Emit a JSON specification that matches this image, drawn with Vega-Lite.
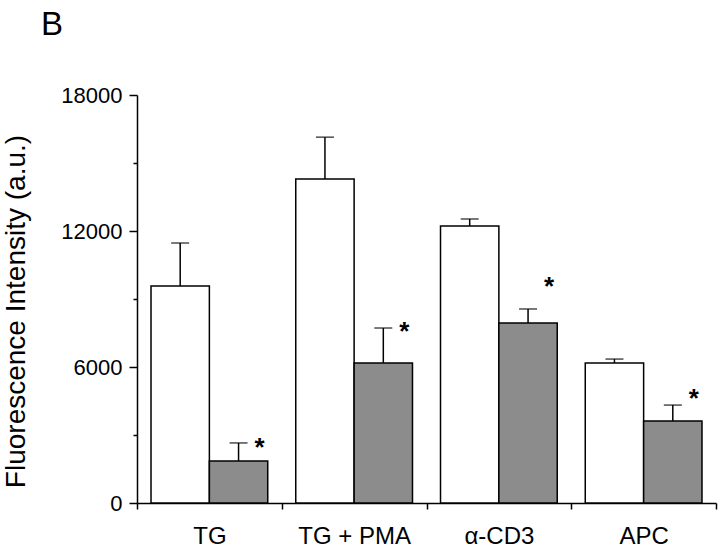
{
  "$schema": "https://vega.github.io/schema/vega-lite/v6.json",
  "width": 579,
  "height": 408,
  "autosize": "none",
  "padding": {"left": 137, "top": 95, "right": 4, "bottom": 44},
  "background": "white",
  "title": {"text": "B", "anchor": "start", "frame": "group", "fontSize": 33, "font": "Liberation Sans", "fontWeight": "normal", "color": "black", "dx": -96, "offset": 42},
  "config": {"view": {"stroke": null}, "font": "Liberation Sans"},
  "data": {"values": [
    {"group": "TG", "treat": "control", "value": 9570, "upper": 11470, "star": null},
    {"group": "TG", "treat": "treated", "value": 1850, "upper": 2650, "star": 2690},
    {"group": "TG + PMA", "treat": "control", "value": 14290, "upper": 16140, "star": null},
    {"group": "TG + PMA", "treat": "treated", "value": 6180, "upper": 7720, "star": 7810},
    {"group": "α-CD3", "treat": "control", "value": 12220, "upper": 12530, "star": null},
    {"group": "α-CD3", "treat": "treated", "value": 7940, "upper": 8560, "star": 9790},
    {"group": "APC", "treat": "control", "value": 6180, "upper": 6350, "star": null},
    {"group": "APC", "treat": "treated", "value": 3620, "upper": 4320, "star": 4850}
  ]},
  "encoding": {
    "x": {"field": "group", "type": "nominal", "sort": null,
      "scale": {"paddingInner": 0, "paddingOuter": 0},
      "axis": {"title": null, "labelAngle": 0, "tickBand": "extent", "domainColor": "black", "domainWidth": 1.5, "tickColor": "black", "tickWidth": 1.5, "tickSize": 6, "labelFontSize": 24, "labelColor": "black", "labelPadding": 15, "labelFont": "Liberation Sans"}},
    "xOffset": {"field": "treat", "type": "nominal", "scale": {"paddingInner": 0, "paddingOuter": 0.24}}
  },
  "layer": [
    {
      "mark": {"type": "bar", "stroke": "black", "strokeWidth": 1.5},
      "encoding": {
        "y": {"field": "value", "type": "quantitative",
          "scale": {"domain": [0, 18000], "nice": false},
          "axis": {"title": "Fluorescence Intensity (a.u.)", "titleFontSize": 28, "titleFont": "Liberation Sans", "titleFontWeight": "normal", "titleColor": "black", "titlePadding": 30, "titleY": 216,
            "values": [0, 3000, 6000, 9000, 12000, 15000, 18000], "format": "d",
            "labelExpr": "datum.value % 6000 === 0 ? datum.label : ''",
            "grid": false, "domainColor": "black", "domainWidth": 1.5, "tickColor": "black", "tickWidth": 1.5,
            "tickSize": {"condition": {"test": "datum.value % 6000 === 0", "value": 8}, "value": 4},
            "labelFontSize": 22, "labelColor": "black", "labelPadding": 7, "labelFont": "Liberation Sans"}},
        "fill": {"field": "treat", "type": "nominal", "scale": {"domain": ["control", "treated"], "range": ["white", "#8c8c8c"]}, "legend": null}
      }
    },
    {
      "mark": {"type": "rule", "color": "black", "strokeWidth": 1.5},
      "encoding": {"y": {"field": "value", "type": "quantitative"}, "y2": {"field": "upper"}}
    },
    {
      "mark": {"type": "tick", "color": "black", "thickness": 1.5, "size": 18, "orient": "horizontal"},
      "encoding": {"y": {"field": "upper", "type": "quantitative"}}
    },
    {
      "transform": [{"filter": "datum.star != null"}],
      "mark": {"type": "text", "text": "*", "fontSize": 26, "fontWeight": "bold", "color": "black", "dx": 21, "dy": 6, "baseline": "middle", "font": "Liberation Sans"},
      "encoding": {"y": {"field": "star", "type": "quantitative"}}
    }
  ]
}
